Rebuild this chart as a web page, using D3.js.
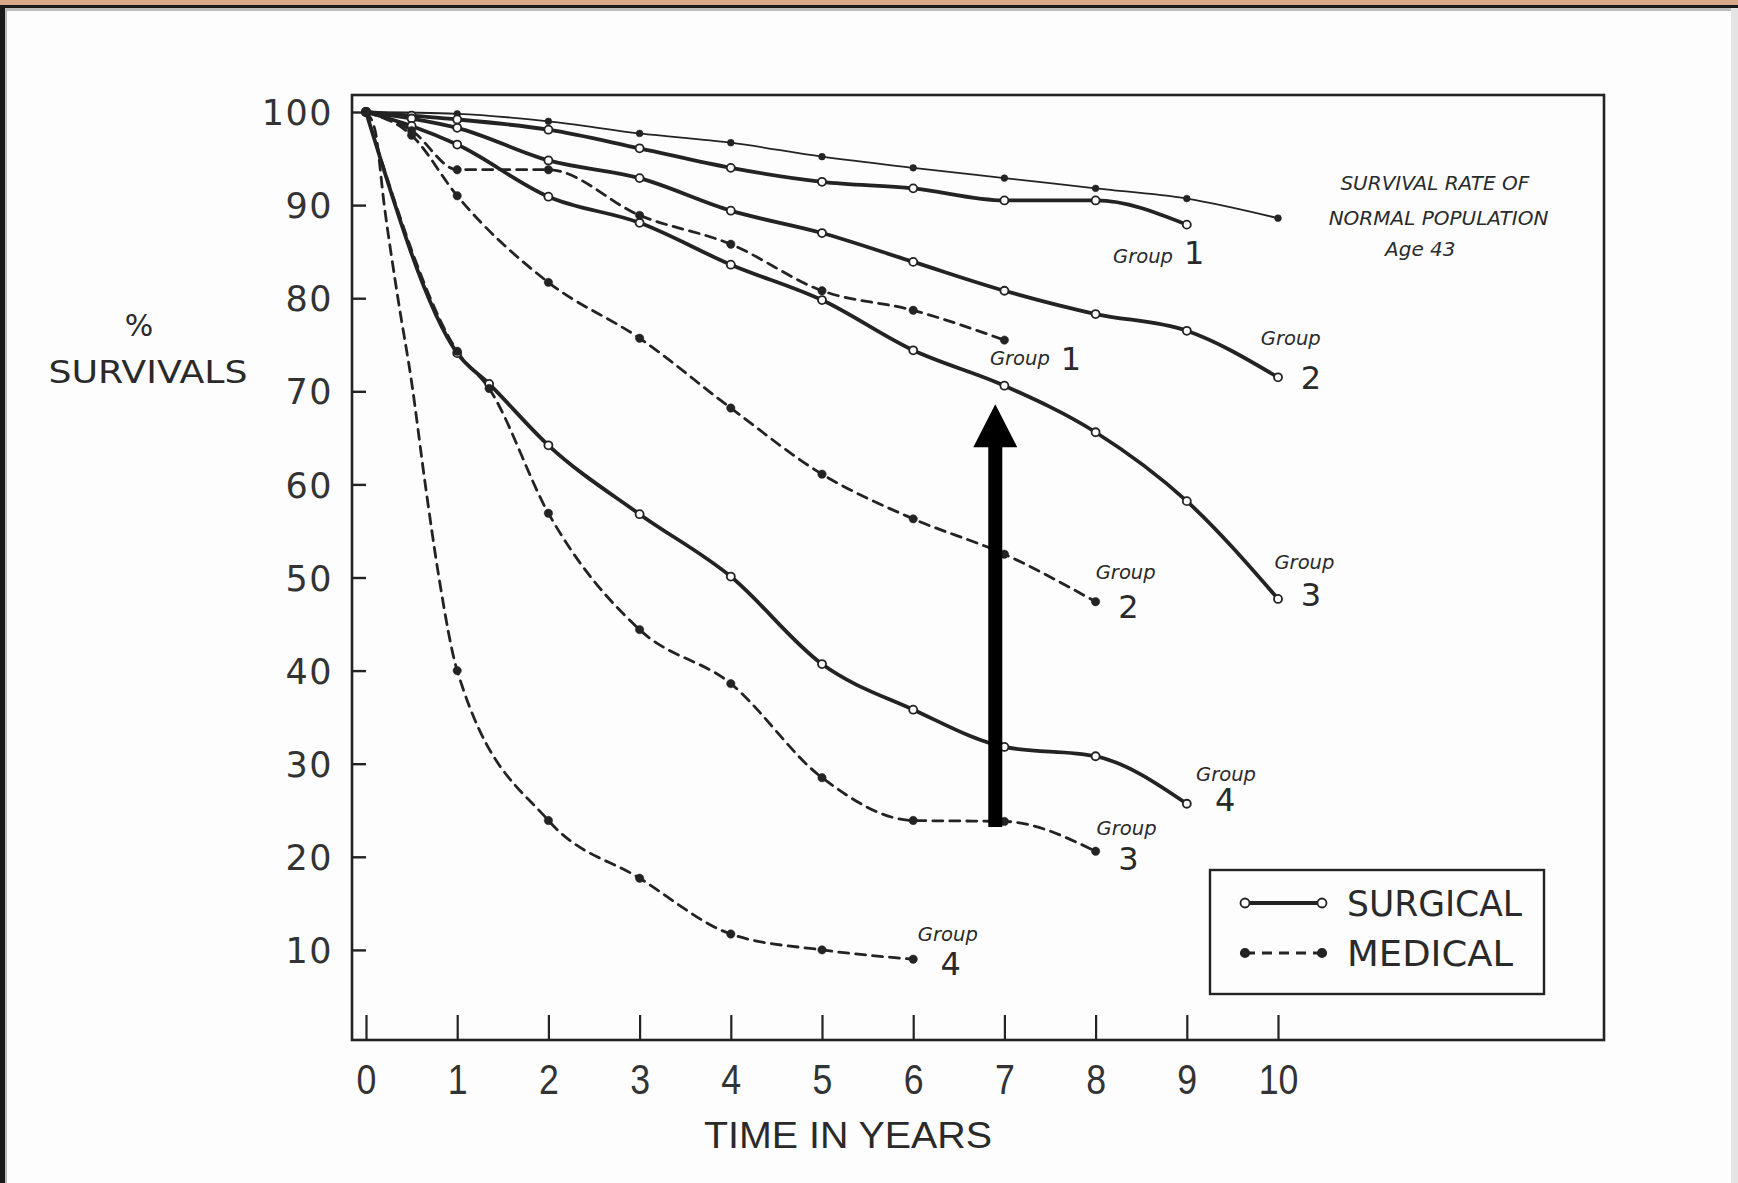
<!DOCTYPE html>
<html><head><meta charset="utf-8">
<script src="https://cdn.jsdelivr.net/npm/d3@7"></script>
<style>html,body{margin:0;padding:0;background:#fdfdfd;} svg{display:block}</style>
</head><body>
<svg id="c" width="1738" height="1183"></svg>
<script>
// ---------- DATA ----------
const xTickValues = [0,1,2,3,4,5,6,7,8,9,10];
const yTickValues = [10,20,30,40,50,60,70,80,90,100];

const normalYears  = [0,1,2,3,4,5,6,7,8,9,10];
const normalValues = [100,99.8,99.0,97.7,96.7,95.2,94.0,92.9,91.8,90.7,88.6];

const surgicalYears1  = [0,0.5,1,2,3,4,5,6,7,8,9];
const surgicalValues1 = [100,99.6,99.2,98.1,96.1,94.0,92.5,91.8,90.5,90.5,87.9];
const surgicalYears2  = [0,0.5,1,2,3,4,5,6,7,8,9,10];
const surgicalValues2 = [100,99.3,98.3,94.8,92.9,89.4,87.0,83.9,80.8,78.3,76.5,71.5];
const surgicalYears3  = [0,0.5,1,2,3,4,5,6,7,8,9,10];
const surgicalValues3 = [100,98.5,96.5,90.9,88.1,83.6,79.8,74.4,70.6,65.6,58.2,47.7];
const surgicalYears4  = [0,1,1.35,2,3,4,5,6,7,8,9];
const surgicalValues4 = [100,74.1,70.8,64.2,56.8,50.1,40.7,35.8,31.8,30.8,25.7];

const medicalYears1  = [0,0.5,1,2,3,4,5,6,7];
const medicalValues1 = [100,98.0,93.8,93.8,88.9,85.8,80.8,78.7,75.5];
const medicalYears2  = [0,0.5,1,2,3,4,5,6,7,8];
const medicalValues2 = [100,97.5,91.0,81.7,75.7,68.2,61.1,56.3,52.5,47.4];
const medicalYears3  = [0,1,1.35,2,3,4,5,6,7,8];
const medicalValues3 = [100,74.3,70.3,56.9,44.4,38.6,28.5,23.9,23.8,20.6];
const medicalYears4  = [0,0.1,0.2,0.35,0.5,0.65,0.8,1,2,3,4,5,6];
const medicalValues4 = [100,98,90,80,71,60,50,40,23.9,17.7,11.7,10.0,9.0];

const legendLabels = ["SURGICAL","MEDICAL"];

// annotations: text, year, value
const groupLabels = [
  ["Group", 8.52, 84.5, "small"], ["1", 9.08, 84.9, "big"],
  ["Group", 7.17, 73.5, "small"], ["1", 7.73, 73.5, "big"],
  ["Group", 10.14, 75.7, "small"], ["2", 10.36, 71.5, "big"],
  ["Group", 10.29, 51.6, "small"], ["3", 10.36, 48.1, "big"],
  ["Group", 8.33, 50.5, "small"], ["2", 8.36, 46.9, "big"],
  ["Group", 9.43, 28.9, "small"], ["4", 9.42, 26.1, "big"],
  ["Group", 8.34, 23.1, "small"], ["3", 8.36, 19.8, "big"],
  ["Group", 6.38, 11.7, "small"], ["4", 6.41, 8.5, "big"]
];
const normalLabelLines = [
  ["SURVIVAL RATE OF", 11.72, 92.4],
  ["NORMAL POPULATION", 11.76, 88.6],
  ["Age 43", 11.56, 85.3]
];
const arrowYear = 6.9, arrowFrom = 23.2, arrowHeadBase = 64.0, arrowTo = 68.6;

// ---------- CHART ----------
const W = 1738, H = 1183;
const svg = d3.select('#c');
const ink = '#232323';

// page decoration
svg.append('rect').attr('width', W).attr('height', H).attr('fill', '#fdfdfd');
svg.append('rect').attr('x', 0).attr('y', 0).attr('width', W).attr('height', 5).attr('fill', '#d8aa8b');
svg.append('rect').attr('x', 0).attr('y', 5).attr('width', W).attr('height', 3).attr('fill', '#1a1a1a');
svg.append('rect').attr('x', 0).attr('y', 8).attr('width', W).attr('height', 3).attr('fill', '#bdbdbd');
svg.append('rect').attr('x', 0).attr('y', 5).attr('width', 5).attr('height', H).attr('fill', '#1a1a1a');
svg.append('rect').attr('x', 5).attr('y', 8).attr('width', 2).attr('height', H).attr('fill', '#bbb');
svg.append('rect').attr('x', 1731).attr('y', 8).attr('width', 7).attr('height', H).attr('fill', '#e4e4e4');

const frame = {l: 352, t: 95, r: 1604, b: 1040};
const x = d3.scaleLinear().domain([0, 10]).range([366, 1278]);
const y = d3.scaleLinear().domain([0, 100]).range([1043, 112]);

// frame
svg.append('rect').attr('x', frame.l).attr('y', frame.t)
  .attr('width', frame.r - frame.l).attr('height', frame.b - frame.t)
  .attr('fill', 'none').attr('stroke', ink).attr('stroke-width', 2.6);

// y axis
const yAxis = svg.append('g').attr('transform', `translate(${frame.l},0)`)
  .call(d3.axisLeft(y).tickValues(yTickValues).tickSizeInner(-14).tickSizeOuter(0).tickPadding(19));
yAxis.select('.domain').remove();
yAxis.selectAll('line').attr('stroke', ink).attr('stroke-width', 2.4);
yAxis.selectAll('text').attr('font-family', 'DejaVu Sans, sans-serif').attr('font-size', 35)
  .attr('fill', '#333').attr('letter-spacing', 1.5).attr('dy', '0.36em');

// x axis
const xAxis = svg.append('g').attr('transform', `translate(0,${frame.b})`)
  .call(d3.axisBottom(x).tickValues(xTickValues).tickSizeInner(-25).tickSizeOuter(0).tickPadding(24));
xAxis.select('.domain').remove();
xAxis.selectAll('line').attr('stroke', ink).attr('stroke-width', 2.2);
xAxis.selectAll('text').attr('font-family', 'Liberation Sans, Arial, sans-serif').attr('font-size', 42)
  .attr('fill', '#333').attr('transform', 'scale(0.85,1)');

// axis titles
svg.append('text').attr('x', 848).attr('y', 1148).attr('text-anchor', 'middle')
  .attr('font-family', 'Liberation Sans, Arial, sans-serif').attr('font-size', 36).attr('fill', '#2a2a2a')
  .attr('textLength', 288).attr('lengthAdjust', 'spacingAndGlyphs').text('TIME IN YEARS');
svg.append('text').attr('x', 139).attr('y', 336).attr('text-anchor', 'middle')
  .attr('font-family', 'DejaVu Sans, sans-serif').attr('font-size', 30).attr('fill', '#2a2a2a').text('%');
svg.append('text').attr('x', 148).attr('y', 383).attr('text-anchor', 'middle')
  .attr('font-family', 'DejaVu Sans, sans-serif').attr('font-size', 32).attr('fill', '#2a2a2a')
  .attr('textLength', 199).attr('lengthAdjust', 'spacingAndGlyphs').text('SURVIVALS');

// series
const zip = (xs, ys) => xs.map((v, i) => [v, ys[i]]);
const series = [
  {pts: zip(normalYears, normalValues), type: 'normal'},
  {pts: zip(surgicalYears1, surgicalValues1), type: 'surgical'},
  {pts: zip(surgicalYears2, surgicalValues2), type: 'surgical'},
  {pts: zip(surgicalYears3, surgicalValues3), type: 'surgical'},
  {pts: zip(surgicalYears4, surgicalValues4), type: 'surgical'},
  {pts: zip(medicalYears1, medicalValues1), type: 'medical'},
  {pts: zip(medicalYears2, medicalValues2), type: 'medical'},
  {pts: zip(medicalYears3, medicalValues3), type: 'medical'},
  {pts: zip(medicalYears4, medicalValues4), type: 'medical'}
];
const line = d3.line().x(d => x(d[0])).y(d => y(d[1])).curve(d3.curveMonotoneX);
const styles = {
  normal:   {w: 1.8, dash: null},
  surgical: {w: 3.8, dash: null},
  medical:  {w: 2.8, dash: '10,7'}
};
const gLines = svg.append('g');
series.forEach(s => {
  gLines.append('path').attr('d', line(s.pts)).attr('fill', 'none')
    .attr('stroke', ink).attr('stroke-width', styles[s.type].w)
    .attr('stroke-dasharray', styles[s.type].dash)
    .attr('stroke-linejoin', 'round').attr('stroke-linecap', 'round');
});
// markers at whole years, plus the early clustered points near 100%
const isMarked = d => Number.isInteger(d[0]) || d[0] === 1.35 || (d[0] === 0.5 && d[1] > 95);
series.forEach(s => {
  const pts = s.pts.filter(isMarked);
  gLines.selectAll(null).data(pts).enter().append('circle')
    .attr('cx', d => x(d[0])).attr('cy', d => y(d[1]))
    .attr('r', s.type === 'surgical' ? 4 : (s.type === 'medical' ? 4.2 : 3.4))
    .attr('fill', s.type === 'surgical' ? '#fdfdfd' : ink)
    .attr('stroke', ink).attr('stroke-width', s.type === 'surgical' ? 1.8 : 0.5);
});

// group labels
groupLabels.forEach(([t, gx, gy, kind]) => {
  const el = svg.append('text').attr('x', x(gx)).attr('y', y(gy)).attr('dy', '0.35em')
    .attr('text-anchor', 'middle').attr('fill', '#2a2a2a').text(t);
  if (kind === 'small') {
    el.attr('font-family', 'DejaVu Sans, sans-serif').attr('font-style', 'italic').attr('font-size', 19)
      .attr('textLength', 60).attr('lengthAdjust', 'spacingAndGlyphs');
  } else {
    el.attr('font-family', 'DejaVu Sans, sans-serif').attr('font-size', 32);
  }
});
normalLabelLines.forEach(([t, gx, gy]) => {
  svg.append('text').attr('x', x(gx)).attr('y', y(gy)).attr('dy', '0.35em')
    .attr('text-anchor', 'middle').attr('fill', '#2a2a2a')
    .attr('font-family', 'DejaVu Sans, sans-serif').attr('font-style', 'italic').attr('font-size', 20)
    .text(t);
});

// arrow
const ax = x(arrowYear);
svg.append('rect').attr('x', ax - 7).attr('y', y(arrowHeadBase) - 1).attr('width', 14)
  .attr('height', y(arrowFrom) - y(arrowHeadBase) + 1).attr('fill', '#000');
svg.append('path').attr('d', `M${ax - 22},${y(arrowHeadBase)} L${ax},${y(arrowTo)} L${ax + 22},${y(arrowHeadBase)} Z`)
  .attr('fill', '#000');

// legend
const lg = svg.append('g');
lg.append('rect').attr('x', 1210).attr('y', 870).attr('width', 334).attr('height', 124)
  .attr('fill', 'none').attr('stroke', ink).attr('stroke-width', 2.4);
legendLabels.forEach((lab, i) => {
  const ly = 903 + i * 50;
  const type = i === 0 ? 'surgical' : 'medical';
  lg.append('line').attr('x1', 1245).attr('x2', 1322).attr('y1', ly).attr('y2', ly)
    .attr('stroke', ink).attr('stroke-width', type === 'surgical' ? 4 : 2.8)
    .attr('stroke-dasharray', type === 'medical' ? '10,7' : null);
  [1245, 1322].forEach(cx => lg.append('circle').attr('cx', cx).attr('cy', ly)
    .attr('r', type === 'surgical' ? 4.5 : 4.2)
    .attr('fill', type === 'surgical' ? '#fdfdfd' : ink).attr('stroke', ink).attr('stroke-width', 1.8));
  lg.append('text').attr('x', 1347).attr('y', ly).attr('dy', '0.36em')
    .attr('font-family', 'DejaVu Sans, sans-serif').attr('font-size', 35).attr('fill', '#2a2a2a')
    .attr('textLength', i === 0 ? 175 : 166).attr('lengthAdjust', 'spacingAndGlyphs').text(lab);
});
</script>
</body></html>
